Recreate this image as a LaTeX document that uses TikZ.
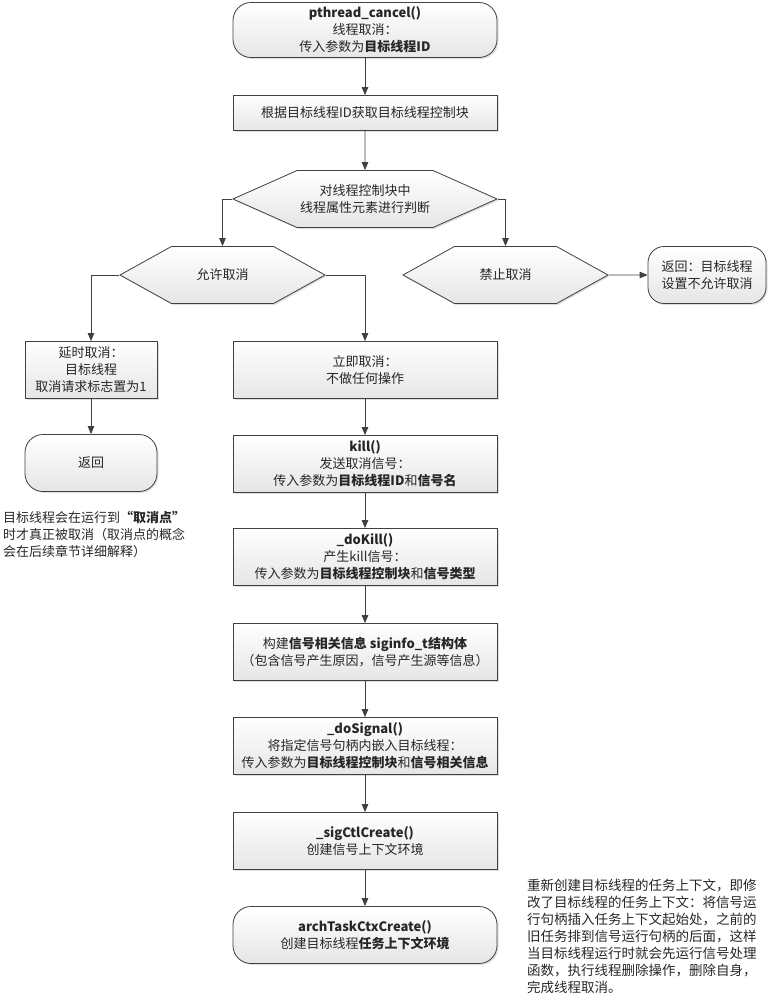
\documentclass[tikz,border=0pt]{standalone}
\usepackage{fontspec}
\setmainfont{Noto Sans CJK SC}
\usepackage{tikz}
\usetikzlibrary{arrows.meta,shapes.symbols,shadows}

\begin{document}
\begin{tikzpicture}[x=1pt,y=1pt,
  font=\fontsize{13}{17}\selectfont,
  base/.style={draw=black!75,line width=0.8pt,text=black!85,align=center,
    top color=white,bottom color=black!10,inner sep=2pt,
    drop shadow={shadow xshift=1.5pt,shadow yshift=-1.5pt,opacity=0.25}},
  proc/.style={base,rectangle,minimum width=264,minimum height=57},
  term/.style={base,rectangle,rounded corners=18,minimum width=264,minimum height=55},
  hexa/.style={base,signal,signal to=east and west,minimum height=57},
  arr/.style={draw=black!75,line width=0.8pt,-{Triangle[length=8pt,width=6.5pt]}},
  note/.style={align=left,text=black!85,inner sep=0pt}]
\useasboundingbox (0,0) rectangle (768,-996);

\node[term] (start) at (365,-30) {\textbf{pthread\_cancel()}\\线程取消：\\传入参数为\textbf{目标线程ID}};
\node[proc,minimum height=35] (getcb) at (365,-113) {根据目标线程ID获取目标线程控制块};
\node[hexa,minimum width=264,signal pointer angle=48] (judge) at (365,-199) {对线程控制块中\\线程属性元素进行判断};

\node[hexa,minimum width=205,signal pointer angle=58] (allow) at (222.5,-275) {允许取消};
\node[hexa,minimum width=205,signal pointer angle=58] (forbid) at (505.5,-275) {禁止取消};
\node[base,rectangle,rounded corners=16,minimum width=118,minimum height=57] (retno) at (707,-275) {返回：目标线程\\设置不允许取消};

\node[base,rectangle,minimum width=132,minimum height=57] (delay) at (91,-370) {延时取消：\\目标线程\\取消请求标志置为1};
\node[base,rectangle,rounded corners=18,minimum width=132,minimum height=57] (ret) at (91,-463) {返回};
\node[note,anchor=north west] (note1) at (3,-511) {目标线程会在运行到\textbf{“取消点”}\\时才真正被取消（取消点的概念\\会在后续章节详细解释）};

\node[proc] (now) at (365,-370) {立即取消：\\不做任何操作};
\node[proc] (kill) at (365,-464) {\textbf{kill()}\\发送取消信号：\\传入参数为\textbf{目标线程ID}和\textbf{信号名}};
\node[proc] (dokill) at (365,-557) {\textbf{\_doKill()}\\产生kill信号：\\传入参数为\textbf{目标线程控制块}和\textbf{信号类型}};
\node[proc] (siginfo) at (365,-652) {构建\textbf{信号相关信息 siginfo\_t结构体}\\（包含信号产生原因，信号产生源等信息）};
\node[proc] (dosig) at (365,-746) {\textbf{\_doSignal()}\\将指定信号句柄内嵌入目标线程：\\传入参数为\textbf{目标线程控制块}和\textbf{信号相关信息}};
\node[proc] (sigctl) at (365,-841) {\textbf{\_sigCtlCreate()}\\创建信号上下文环境};
\node[term,minimum height=57] (arch) at (365,-935) {\textbf{archTaskCtxCreate()}\\创建目标线程\textbf{任务上下文环境}};

\node[note,anchor=north west,font=\fontsize{13.5}{17}\selectfont] (note2) at (527,-879) {重新创建目标线程的任务上下文，即修\\改了目标线程的任务上下文：将信号运\\行句柄插入任务上下文起始处，之前的\\旧任务排到信号运行句柄的后面，这样\\当目标线程运行时就会先运行信号处理\\函数，执行线程删除操作，删除自身，\\完成线程取消。};

% connectors
\draw[arr] (start) -- (getcb);
\draw[arr] (getcb) -- (judge);
\draw[arr] (judge.west) -| (allow.north);
\draw[arr] (judge.east) -| (forbid.north);
\draw[arr] (forbid) -- (retno);
\draw[arr] (allow.west) -| (delay.north);
\draw[arr] (allow.east) -| (now.north);
\draw[arr] (delay) -- (ret);
\foreach \a/\b in {now/kill,kill/dokill,dokill/siginfo,siginfo/dosig,dosig/sigctl,sigctl/arch}
  \draw[arr] (\a) -- (\b);
\end{tikzpicture}
\end{document}
